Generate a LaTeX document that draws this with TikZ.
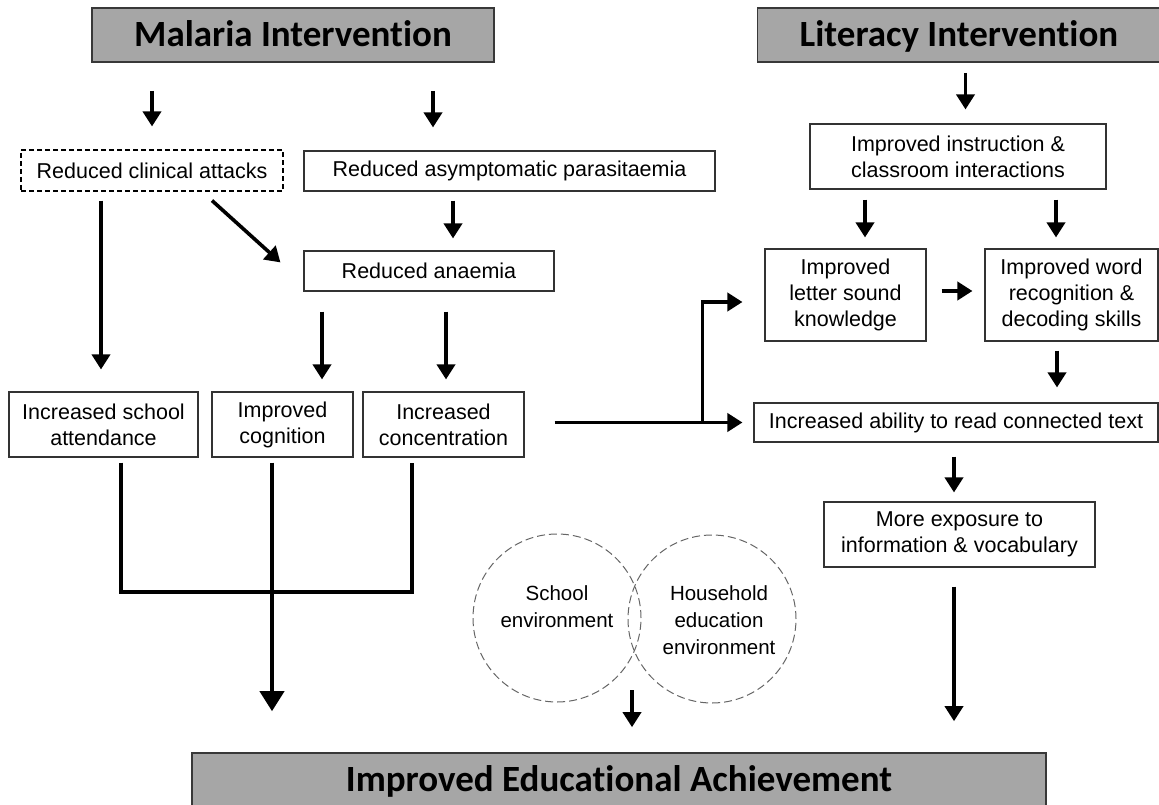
\documentclass[tikz,border=0pt]{standalone}
\usepackage{fontspec}
\setmainfont{Liberation Sans}
\newfontfamily\titlefont[Ligatures={NoCommon,NoRare,NoContextual}]{Carlito}
\usetikzlibrary{arrows.meta,calc}
\begin{document}
\begin{tikzpicture}[x=1pt,y=-1pt,
  titlebox/.style={draw=black!78,line width=1.6pt,fill=black!35,inner sep=0pt,
    text height=27pt,text depth=4pt,
    font=\titlefont\bfseries\fontsize{37}{40}\selectfont},
  box/.style={draw=black!80,line width=1.1pt,inner sep=0pt,align=center,
    font=\fontsize{21.5}{26}\selectfont},
  dbox/.style={box,draw=black,dash pattern=on 5pt off 3pt},
  env/.style={circle,draw=black!60,line width=1pt,dash pattern=on 8pt off 4pt,
    inner sep=0pt,minimum size=168pt},
  envtext/.style={align=center,inner sep=0pt,font=\fontsize{20.5}{27}\selectfont},
  arr/.style={line width=3.6pt,-{Triangle[length=15pt,width=18pt]}},
  bigarr/.style={line width=4pt,-{Triangle[length=20pt,width=24pt]}},
  link/.style={line width=4pt,line join=miter}]
\useasboundingbox (0,0) rectangle (1159,805);
\fill[white] (0,0) rectangle (1159,805);

% titles
\node[titlebox,minimum width=402pt,minimum height=54pt] (mal) at (293,35) {Malaria Intervention};
\node[titlebox,minimum width=403pt,minimum height=54pt] (lit) at (959,35) {Literacy Intervention};
\node[titlebox,minimum width=854pt,minimum height=53pt] (iea) at (619,779.5) {Improved Educational Achievement};

% malaria side
\node[dbox,minimum width=262pt,minimum height=41pt] (rca) at (152,170.5) {Reduced clinical attacks};
\node[box,minimum width=411pt,minimum height=40pt] (rap) at (509.5,171) {Reduced asymptomatic parasitaemia};
\node[box,minimum width=250pt,minimum height=40pt] (ran) at (429,271) {Reduced anaemia};
\node[box,minimum width=189pt,minimum height=65pt] (isa) at (103.5,424.5) {Increased school\\attendance};
\node[box,minimum width=141pt,minimum height=65pt] (ico) at (282.5,424.5) {Improved\\cognition};
\node[box,minimum width=161pt,minimum height=65pt] (icn) at (443.5,424.5) {Increased\\concentration};

% literacy side
\node[box,minimum width=296pt,minimum height=65pt] (iic) at (958,156.5) {Improved instruction \&\\classroom interactions};
\node[box,minimum width=161pt,minimum height=92pt] (ils) at (845.5,295) {Improved\\letter sound\\knowledge};
\node[box,minimum width=173pt,minimum height=92pt] (iwr) at (1071.5,295) {Improved word\\recognition \&\\decoding skills};
\node[box,minimum width=404pt,minimum height=39pt] (iar) at (956,422.5) {Increased ability to read connected text};
\node[box,minimum width=271pt,minimum height=65pt] (mev) at (959.5,534.5) {More exposure to\\information \& vocabulary};

% environments
\node[env] (sch) at (557,618) {};
\node[env] (hh) at (712,619) {};
\node[envtext] (scht) at (557,607) {School\\environment};
\node[envtext] (hht) at (719,620) {Household\\education\\environment};

% helper coordinates
\coordinate (m2) at ([xshift=140pt]mal.south);
\coordinate (l1) at ([xshift=6.5pt]lit.south);
\coordinate (r1) at ([xshift=-56.5pt]rap.south);
\coordinate (c1) at ([xshift=-51pt]rca.south);
\coordinate (a1) at ([xshift=-107pt]ran.south);
\coordinate (a2) at ([xshift=17pt]ran.south);
\coordinate (i1) at ([xshift=-93pt]iic.south);
\coordinate (i2) at ([xshift=98pt]iic.south);
\coordinate (h1) at ([yshift=4pt]ils.east);
\coordinate (w1) at ([xshift=-14.5pt]iwr.south);
\coordinate (br) at ([xshift=-51pt]iar.west);
\coordinate (x1) at ([xshift=-2pt]iar.south);
\coordinate (x2) at ([xshift=-5.5pt]mev.south);
\coordinate (e1) at ([xshift=75pt,yshift=-72pt]sch.center);
\coordinate (s1) at ([xshift=17.5pt,yshift=-5pt]isa.south);
\coordinate (s2) at ([xshift=-10.5pt,yshift=-5pt]ico.south);
\coordinate (s3) at ([xshift=-31.5pt,yshift=-5pt]icn.south);

% arrows
\draw[arr,shorten <=28pt,shorten >=23pt] (rca.north |- mal.south) -- (rca.north);
\draw[arr,shorten <=28pt,shorten >=23pt] (m2) -- (m2 |- rap.north);
\draw[arr,shorten <=10pt,shorten >=14pt] (l1) -- (l1 |- iic.north);
\draw[arr,shorten <=9pt,shorten >=12pt] (r1) -- (r1 |- ran.north);
\draw[arr] ([xshift=60pt,yshift=-9pt]rca.south) -- ([xshift=-23pt,yshift=-12pt]ran.north west);
\draw[arr,shorten <=9pt,shorten >=22pt] (c1) -- (c1 |- isa.north);
\draw[arr,shorten <=20pt,shorten >=12pt] (a1) -- (a1 |- ico.north);
\draw[arr,shorten <=20pt,shorten >=12pt] (a2) -- (a2 |- icn.north);
\draw[arr,shorten <=10pt,shorten >=11pt] (i1) -- (i1 |- ils.north);
\draw[arr,shorten <=10pt,shorten >=11pt] (i2) -- (i2 |- iwr.north);
\draw[arr,shorten <=15pt,shorten >=12pt] (h1) -- (h1 -| iwr.west);
\draw[arr,shorten <=9pt,shorten >=15pt] (w1) -- (w1 |- iar.north);
\draw[arr,shorten <=30pt,shorten >=11pt] (icn.east |- iar.west) -- (iar.west);
\draw[arr,shorten >=22pt] (br) |- ([yshift=-7pt]ils.west);
\draw[arr,shorten <=14pt,shorten >=9pt] (x1) -- (x1 |- mev.north);
\draw[arr,shorten <=19pt,shorten >=31pt] (x2) -- (x2 |- iea.north);
\draw[arr,shorten >=25pt] (e1) -- (e1 |- iea.north);

% collecting lines
\draw[link] (s1) -- ++(0,129) -| (s3);
\draw[bigarr,shorten >=41pt] (s2) -- (s2 |- iea.north);
\end{tikzpicture}
\end{document}
